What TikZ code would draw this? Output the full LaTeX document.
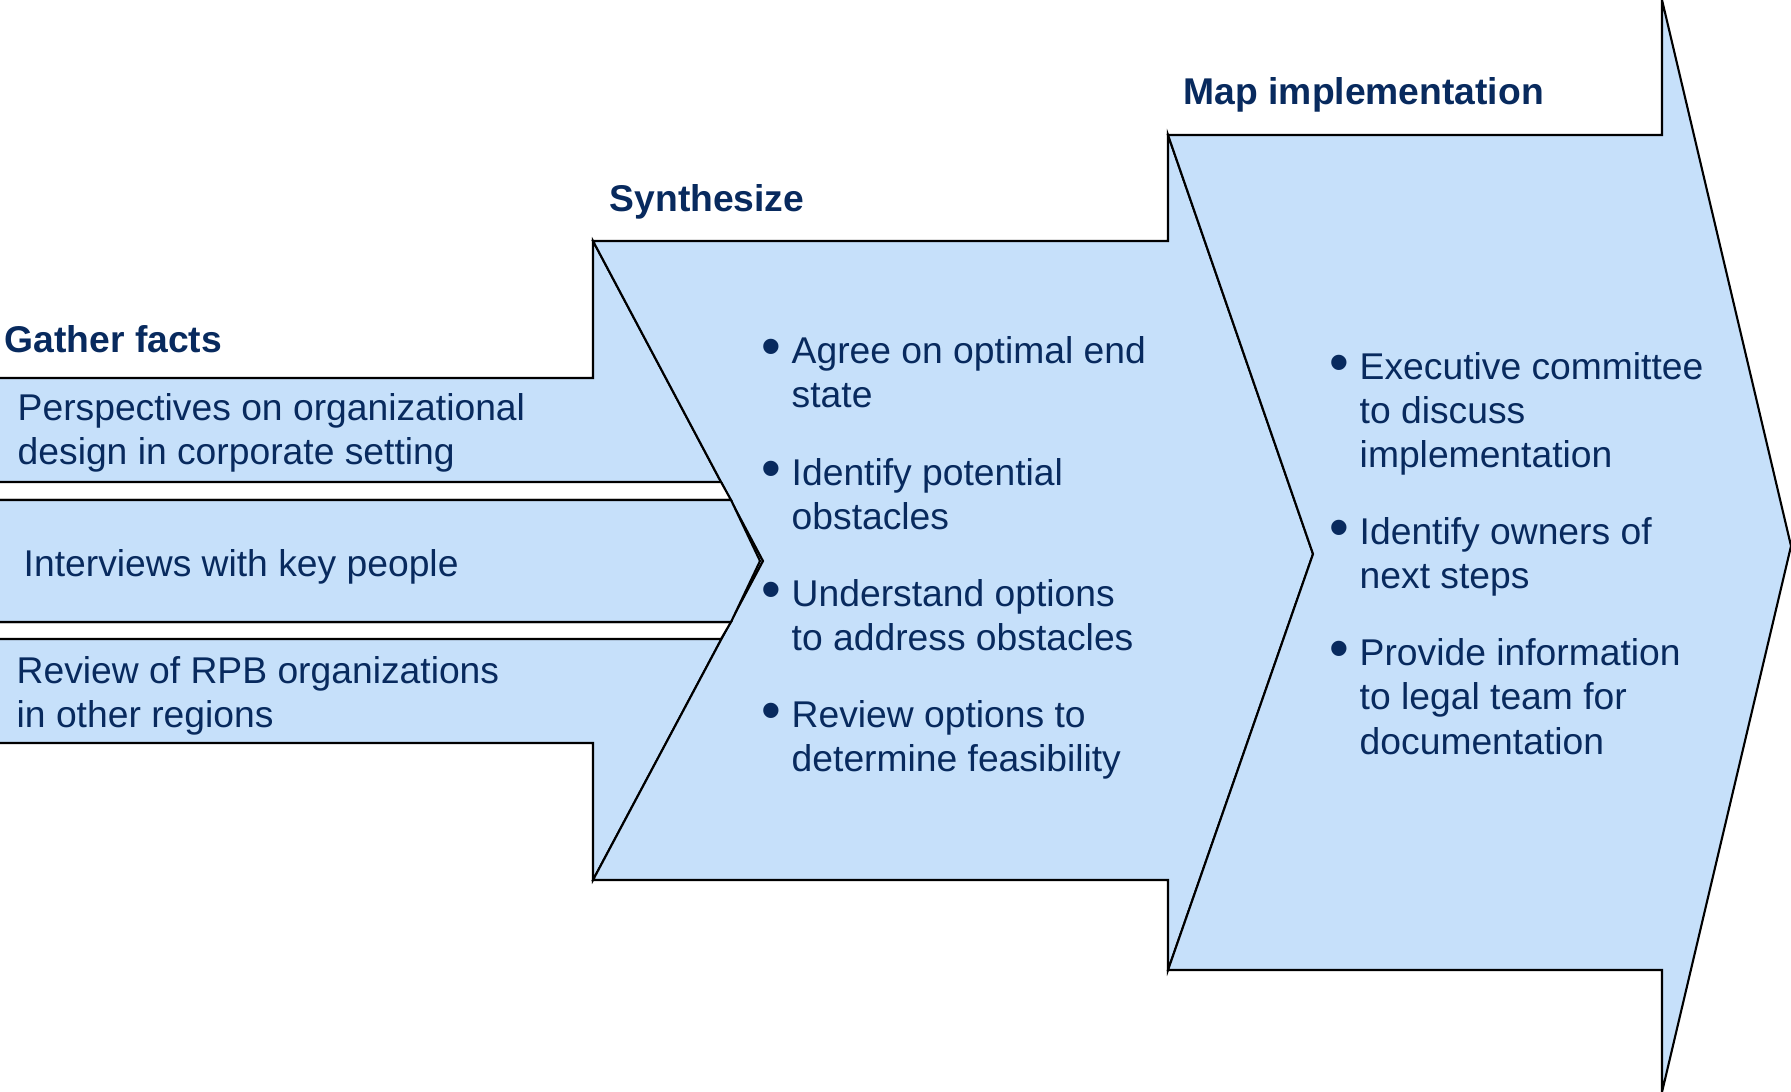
\documentclass[tikz,border=0pt]{standalone}
\usepackage{fontspec}
\setmainfont{Liberation Sans}
\usetikzlibrary{positioning}
\definecolor{stepBlue}{RGB}{198,224,250}
\definecolor{textNavy}{RGB}{8,42,94}
\tikzstyle{stageShape} = [draw=black, line width=0.6pt, fill=stepBlue]
\tikzstyle{gapShape} = [draw=black, line width=0.6pt, fill=white]
\tikzstyle{normalText} = [anchor=base west, inner sep=0, text=textNavy,
	align=left, font=\fontsize{10.6}{12.66}\selectfont]
\tikzstyle{stageTitle} = [normalText, font=\fontsize{10.6}{12.66}\selectfont\bfseries]
\newcommand{\bul}{\llap{\makebox[8.7pt][l]{\raisebox{-0.6pt}{\fontsize{16}{16}\selectfont\textbullet}}}}

\begin{document}
\begin{tikzpicture}[x=1cm, y=-1cm]
	\useasboundingbox (0,0) rectangle (17.91,10.92);
	\clip (0,0) rectangle (17.91,10.92);
	% three stages
	\draw [stageShape] (-0.1,3.78) -- (5.93,3.78) -- (5.93,2.41) -- (7.63,5.61)
		-- (5.93,8.80) -- (5.93,7.43) -- (-0.1,7.43) -- cycle;
	\draw [stageShape] (5.93,2.41) -- (11.68,2.41) -- (11.68,1.35) -- (13.13,5.54)
		-- (11.68,9.70) -- (11.68,8.80) -- (5.93,8.80) -- (7.63,5.61) -- cycle;
	\draw [stageShape] (11.68,1.35) -- (16.62,1.35) -- (16.62,0) -- (17.91,5.46)
		-- (16.62,10.92) -- (16.62,9.70) -- (11.68,9.70) -- (13.13,5.54) -- cycle;

	% gaps between the bars, middle bar on top
	\draw [gapShape] (-0.1,4.82) -- (7.21,4.82) -- (7.31,5.00) -- (-0.1,5.00) -- cycle;
	\draw [gapShape] (-0.1,6.22) -- (7.31,6.22) -- (7.21,6.39) -- (-0.1,6.39) -- cycle;
	\draw [stageShape] (-0.1,5.00) -- (7.31,5.00) -- (7.60,5.61) -- (7.31,6.22) -- (-0.1,6.22) -- cycle;

	\node (Gather) at (0.04,3.53) [stageTitle] {Gather facts};
	\node (Synth) at (6.09,2.12) [stageTitle] {Synthesize};
	\node (MapImpl) at (11.83,1.05) [stageTitle] {Map implementation};

	% base = last line
	\node (Bar1) at (0.17,4.645) [normalText] {Perspectives on organizational\\design in corporate setting};
	\node (Bar2) at (0.23,5.76) [normalText] {Interviews with key people};
	\node (Bar3) at (0.16,7.275) [normalText] {Review of RPB organizations\\in other regions};

	\node (Synth1) at (7.91,4.075) [normalText] {\bul Agree on optimal end\\state};
	\node (Synth2) at (7.91,5.295) [normalText] {\bul Identify potential\\obstacles};
	\node (Synth3) at (7.91,6.505) [normalText] {\bul Understand options\\to address obstacles};
	\node (Synth4) at (7.91,7.715) [normalText] {\bul Review options to\\determine feasibility};

	\node (Map1) at (13.59,4.68) [normalText] {\bul Executive committee\\to discuss\\implementation};
	\node (Map2) at (13.59,5.885) [normalText] {\bul Identify owners of\\next steps};
	\node (Map3) at (13.59,7.54) [normalText] {\bul Provide information\\to legal team for\\documentation};
\end{tikzpicture}
\end{document}
